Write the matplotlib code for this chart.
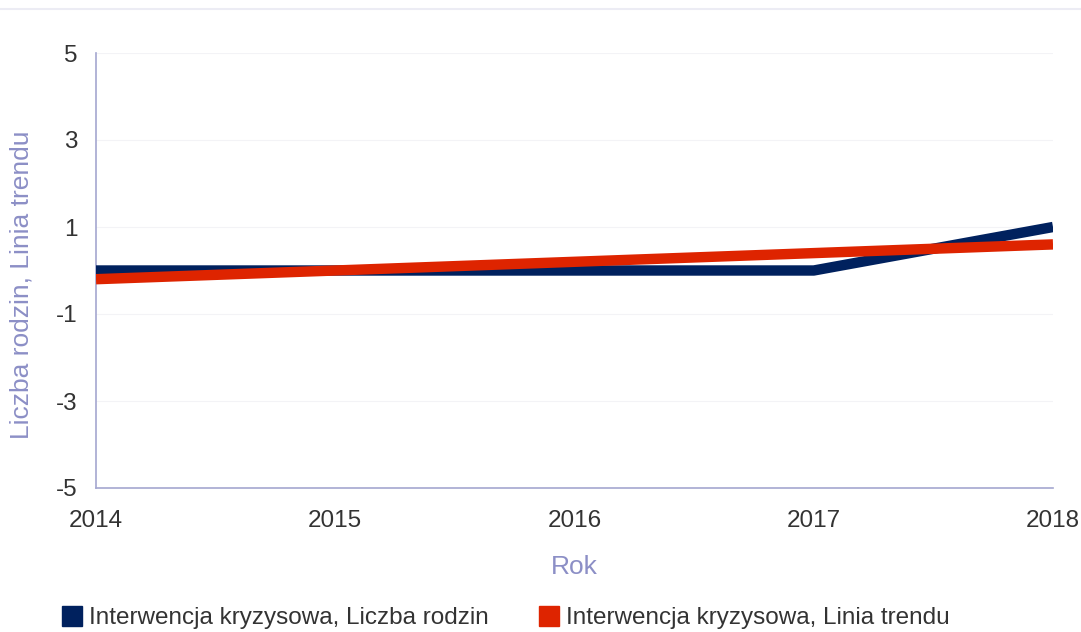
import matplotlib
matplotlib.use("Agg")
import matplotlib.pyplot as plt
from matplotlib.lines import Line2D

years = [2014, 2015, 2016, 2017, 2018]
liczba_rodzin = [0, 0, 0, 0, 1]
linia_trendu = [-0.2, 0.0, 0.2, 0.4, 0.6]
yticks = [-5, -3, -1, 1, 3, 5]
series_names = ["Interwencja kryzysowa, Liczba rodzin", "Interwencja kryzysowa, Linia trendu"]

plt.rcParams['font.family'] = ['Liberation Sans', 'DejaVu Sans']
plt.rcParams['axes.unicode_minus'] = False

blue = "#00215e"
red = "#de2400"
axis_col = "#a4a7d0"
lab_col = "#8c8fc6"

fig = plt.figure(figsize=(10.81, 6.32), dpi=100)
ax = fig.add_axes([96/1081, 1-488/632, (1053-96)/1081, (488-53)/632])

ax.plot(years, liczba_rodzin, color=blue, lw=7.5, solid_capstyle='butt', zorder=3)
ax.plot(years, linia_trendu, color=red, lw=7.5, solid_capstyle='butt', zorder=4)

ax.set_xlim(2014, 2018)
ax.set_ylim(-5, 5)
ax.set_xticks(years)
ax.set_yticks(yticks)
ax.tick_params(length=0, labelsize=17.5, labelcolor="#333333")
ax.tick_params(axis='x', pad=16)
ax.tick_params(axis='y', pad=13)
for y in yticks:
    ax.axhline(y, color="#f3f3f6", lw=0.8, zorder=1)
for s in ['top', 'right']:
    ax.spines[s].set_visible(False)
for s in ['left', 'bottom']:
    ax.spines[s].set_color(axis_col)
    ax.spines[s].set_linewidth(1.2)

ax.set_xlabel("Rok", fontsize=19, color=lab_col)
ax.xaxis.set_label_coords(0.5, -(567-488)/435, transform=ax.transAxes)
ax.xaxis.label.set_va('center')
ax.set_ylabel("Liczba rodzin, Linia trendu", fontsize=19, color=lab_col)
ax.yaxis.set_label_coords(-(96-22)/957, (488-285)/435)
ax.yaxis.label.set_va('center')

# faint line near top
fig.add_artist(Line2D([0, 1], [1-9/632, 1-9/632], color="#ececf4", lw=1.5))

handles = [Line2D([], [], marker='s', ls='none', color=blue, markersize=14),
           Line2D([], [], marker='s', ls='none', color=red, markersize=14)]
fig.legend(handles, series_names, loc='center left', bbox_to_anchor=(50/1081, 1-618/632),
           ncol=2, frameon=False, fontsize=17.5, handletextpad=0.2, columnspacing=2.0,
           labelcolor="#333333", handlelength=1.0, borderaxespad=0)

fig.savefig("out.png", dpi=100)
